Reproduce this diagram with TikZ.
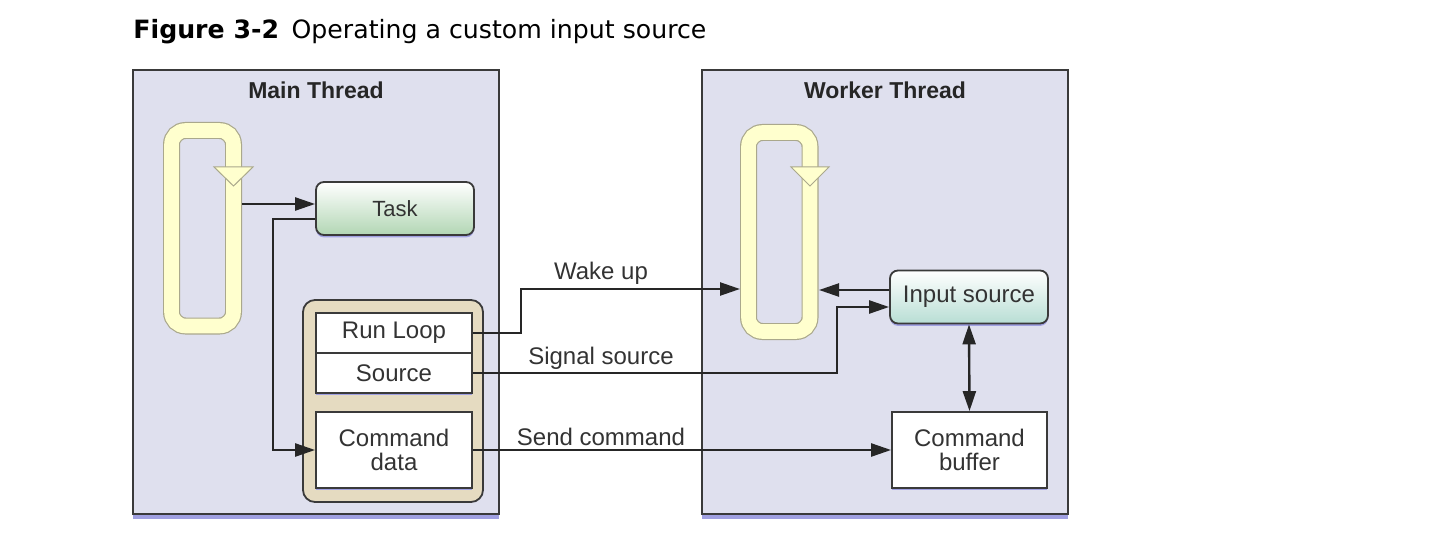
\documentclass[tikz,border=0pt]{standalone}
\usepackage{fontspec}
\setmainfont{Liberation Sans}
\newfontfamily\titlefont{DejaVu Sans}
\usetikzlibrary{arrows.meta,shadows,calc}
\definecolor{threadbg}{RGB}{223,224,238}
\definecolor{boxline}{RGB}{58,58,58}
\definecolor{tan}{RGB}{229,219,193}
\definecolor{loopfill}{RGB}{255,255,206}
\definecolor{loopline}{RGB}{170,168,140}
\definecolor{taskbot}{RGB}{178,214,180}
\definecolor{inbot}{RGB}{184,222,212}
\definecolor{shadowblue}{RGB}{160,160,225}
\tikzset{
  threadbox/.style={draw=boxline, line width=1.1pt, fill=threadbg, minimum width=183pt, minimum height=222pt,
    drop shadow={shadow xshift=0pt, shadow yshift=-2.5pt, fill=shadowblue, opacity=1}},
  threadtitle/.style={font=\fontsize{11.5}{12}\selectfont\bfseries, anchor=base, text=black!85},
  whitebox/.style={draw=boxline, line width=0.9pt, fill=white, minimum width=78pt,
    font=\fontsize{12}{12}\selectfont, align=center, text=black!80,
    drop shadow={shadow xshift=0pt, shadow yshift=-1.2pt, fill=shadowblue, opacity=1}},
  gradbox/.style={draw=boxline, line width=0.9pt, rounded corners=4pt, minimum width=79pt, minimum height=26.5pt,
    font=\fontsize{12}{12}\selectfont, text=black!80,
    drop shadow={shadow xshift=0pt, shadow yshift=-1.2pt, fill=shadowblue, opacity=1}},
  lbl/.style={font=\fontsize{12}{12}\selectfont, text=black!80},
  arr/.style={draw=black!85, line width=1.2pt, -{Triangle[length=10pt,width=6.5pt]}},
  dblarr/.style={draw=black!85, line width=1.2pt, {Triangle[length=10pt,width=6.5pt]}-{Triangle[length=10pt,width=6.5pt]}},
  loopband/.style={line width=8.5pt, draw=loopline, rounded corners=7pt},
  loopinner/.style={line width=7.3pt, draw=loopfill, rounded corners=7pt},
  loophead/.style={fill=loopfill, draw=loopline, line width=0.5pt}
}
\begin{document}
\begin{tikzpicture}[x=0.5pt,y=-0.5pt]
\useasboundingbox (0,0) rectangle (1436,540);
\fill[white] (0,0) rectangle (1436,540);

% title
\node[anchor=base west, inner sep=0pt, font=\titlefont\fontsize{12.6}{13}\selectfont] (title) at (133,39)
  {\textbf{Figure 3-2}\hspace{0.5em}Operating a custom input source};

% thread boxes
\node[threadbox] (main) at (316,292) {};
\node[threadbox] (worker) at (885,292) {};
\node[threadtitle] (maint) at (316,99) {Main Thread};
\node[threadtitle] (workt) at (885,99) {Worker Thread};

% main loop
\draw[loopband] (171.5,130.5) rectangle (233.5,326);
\draw[loopinner] (171.5,130.5) rectangle (233.5,326);
\draw[loophead] (214,167) -- (253,167) -- (233.5,186) -- cycle;
\coordinate (mlr) at (242,204);

% worker loop
\draw[loopband] (748.5,132.5) rectangle (810,331.5);
\draw[loopinner] (748.5,132.5) rectangle (810,331.5);
\draw[loophead] (791,167) -- (829,167) -- (810,186) -- cycle;
\coordinate (wll) at (740,289);
\coordinate (wlr) at (819,290);

% task
\node[gradbox, top color=white, bottom color=taskbot, font=\fontsize{11}{11}\selectfont] (task) at (395,208.5) {Task};

% container
\node[draw=boxline, line width=0.9pt, fill=tan, rounded corners=6pt, minimum width=90pt, minimum height=101pt] (cont) at (393,401) {};
\node[whitebox, minimum height=20pt] (runloop) at (394,333) {Run Loop};
\node[whitebox, minimum height=20pt] (source) at (394,373) {Source};
\node[whitebox, minimum height=38pt] (cmddata) at (394,450) {Command\\data};

% worker nodes
\node[gradbox, top color=white, bottom color=inbot] (input) at (969,297) {Input source};
\node[whitebox, minimum width=77.5pt, minimum height=38pt] (cmdbuf) at (969.5,450) {Command\\buffer};

% connectors
\draw[arr] (mlr) -- (task.west |- mlr);
\draw[arr] ($(task.west)+(0,10.5)$) -| ($(cmddata.west)+(-42,0)$) -- (cmddata.west);
\draw[arr] (runloop.east) -- ++(48,0) |- (wll);
\draw[arr] (source.east) -| ($(input.west)+(-52,10)$) -- ($(input.west)+(0,10)$);
\draw[arr] ($(input.west)+(0,-7)$) -- (wlr |- {$(input.west)+(0,-7)$});
\draw[arr] (cmddata.east) -- (cmdbuf.west);
\draw[dblarr] (input.south) -- (cmdbuf.north);

% labels
\node[lbl] (wake) at (601,273) {Wake up};
\node[lbl] (sig) at (601,358) {Signal source};
\node[lbl] (send) at (601,437) {Send command};
\end{tikzpicture}
\end{document}
